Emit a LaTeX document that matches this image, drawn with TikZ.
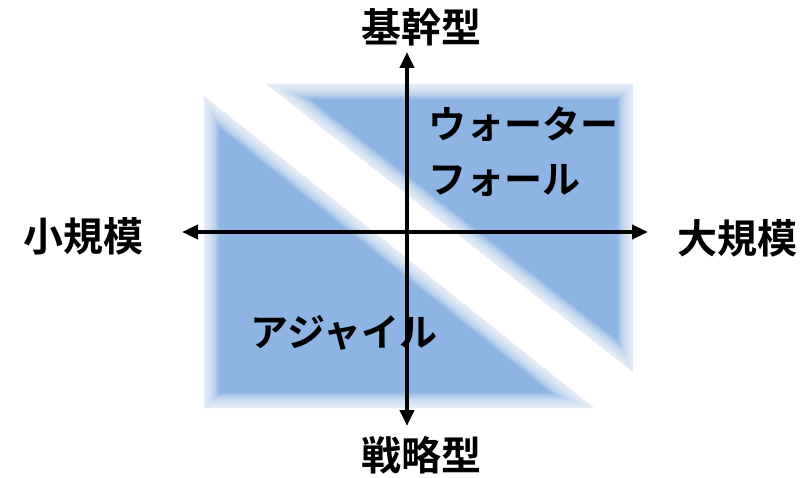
\documentclass[tikz,border=0pt]{standalone}
\usepackage{fontspec}
\newfontfamily\jpfont{Noto Sans CJK JP}[BoldFont={Noto Sans CJK JP Bold}]
\usetikzlibrary{arrows.meta}
\definecolor{QB}{HTML}{8EB4E3}
\tikzset{
  axislabel/.style={font=\jpfont\bfseries\fontsize{40}{40}\selectfont, inner sep=0pt},
  quadlabel/.style={font=\jpfont\bfseries\fontsize{38}{55}\selectfont, align=left, inner sep=0pt},
  axisline/.style={line width=4.5pt,
    {Triangle[length=16pt,width=14pt]}-{Triangle[length=16pt,width=14pt]}},
  softedge/.style={white, line join=round, opacity=0.14},
}
\begin{document}
\begin{tikzpicture}[x=1pt,y=-1pt]
  \useasboundingbox (0,0) rectangle (805,478);
  % blue fields with soft edges
  \fill[QB] (266,84) -- (633,84) -- (633,372) -- cycle;
  \fill[QB] (204,96) -- (204,408) -- (594,408) -- cycle;
  \foreach \w in {3,6,...,30}{
    \draw[softedge, line width=\w pt] (266,84) -- (633,84) -- (633,372) -- cycle;
    \draw[softedge, line width=\w pt] (204,96) -- (204,408) -- (594,408) -- cycle;
  }
  % axes
  \coordinate (west) at (182,232);
  \coordinate (east) at (648,232);
  \coordinate (north) at (407,52);
  \coordinate (south) at (407,426);
  \draw[axisline] (west) -- (east);
  \draw[axisline] (north) -- (south);
  % labels
  \node[axislabel] (core) at (421,27) {基幹型};
  \node[axislabel] (strategic) at (421,455) {戦略型};
  \node[axislabel] (small) at (83,236) {小規模};
  \node[axislabel] (large) at (737,238) {大規模};
  \node[quadlabel, anchor=north west] (waterfall) at (428,106) {ウォーター\\フォール};
  \node[quadlabel] (agile) at (344,333) {アジャイル};
\end{tikzpicture}
\end{document}
